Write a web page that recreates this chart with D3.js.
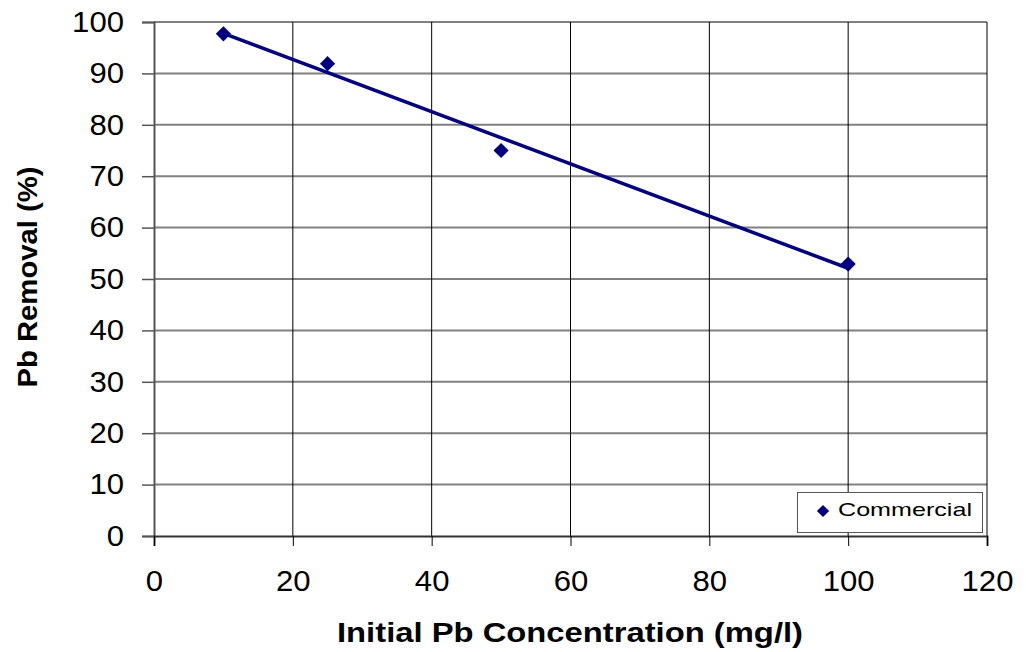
<!DOCTYPE html>
<html><head><meta charset="utf-8">
<script src="https://cdn.jsdelivr.net/npm/d3@7"></script>
<style>body{margin:0;background:#fff}svg{display:block}text{font-family:"Liberation Sans",Arial,sans-serif}</style>
</head><body><svg id="c" width="1026" height="652"></svg>
<script>
const concentrations = [10, 25, 50, 100];
const removal = [97.7, 91.9, 75.0, 52.9];
const xTicks = [0, 20, 40, 60, 80, 100, 120];
const yTicks = [0, 10, 20, 30, 40, 50, 60, 70, 80, 90, 100];
const seriesName = "Commercial";
const xTitle = "Initial Pb Concentration (mg/l)";
const yTitle = "Pb Removal (%)";

const svg = d3.select("#c");
const L = 154, R = 987, T = 22, B = 536;
const x = d3.scaleLinear().domain([0, 120]).range([L, R]);
const y = d3.scaleLinear().domain([0, 100]).range([B, T]);
const navy = "#000080";

// horizontal gridlines (gray)
svg.append("g").selectAll("line").data(yTicks.filter(d => d > 0)).join("line")
  .attr("x1", L).attr("x2", R).attr("y1", d => y(d)).attr("y2", d => y(d))
  .attr("stroke", "#808080").attr("stroke-width", 2);
// vertical gridlines (black)
svg.append("g").selectAll("line").data(xTicks.filter(d => d > 0)).join("line")
  .attr("x1", d => x(d)).attr("x2", d => x(d)).attr("y1", T).attr("y2", B)
  .attr("stroke", "#000").attr("stroke-width", 1);

function styleLabels(sel) {
  sel.attr("font-size", 29).attr("fill", "#000")
    .attr("font-family", "Liberation Sans, Arial, sans-serif")
    .attr("textLength", function() { return this.textContent.length * 17.3; })
    .attr("lengthAdjust", "spacingAndGlyphs");
}

// axes
const yAxis = d3.axisLeft(y).tickValues(yTicks).tickSize(12).tickPadding(18);
const gy = svg.append("g").attr("transform", `translate(${L},0)`).call(yAxis);
gy.select(".domain").attr("stroke", "#555").attr("stroke-width", 2);
gy.selectAll(".tick line").attr("stroke", "#555").attr("stroke-width", 1.5);
styleLabels(gy.selectAll(".tick text"));

const xAxis = d3.axisBottom(x).tickValues(xTicks).tickSize(10).tickPadding(24);
const gx = svg.append("g").attr("transform", `translate(0,${B})`).call(xAxis);
gx.select(".domain").attr("stroke", "#333").attr("stroke-width", 2);
gx.selectAll(".tick line").attr("stroke", "#000").attr("stroke-width", 1);
styleLabels(gx.selectAll(".tick text"));

// linear trendline (least squares)
const n = concentrations.length;
const mx = d3.mean(concentrations), my = d3.mean(removal);
let sxy = 0, sxx = 0;
for (let i = 0; i < n; i++) { sxy += (concentrations[i]-mx)*(removal[i]-my); sxx += (concentrations[i]-mx)**2; }
const slope = sxy / sxx, icpt = my - slope * mx;
const x0 = d3.min(concentrations), x1 = d3.max(concentrations);
svg.append("line")
  .attr("x1", x(x0)).attr("y1", y(icpt + slope * x0))
  .attr("x2", x(x1)).attr("y2", y(icpt + slope * x1))
  .attr("stroke", navy).attr("stroke-width", 3.5);

// markers
const diamond = d3.symbol().type(d3.symbolSquare).size(115);
svg.append("g").selectAll("path").data(concentrations).join("path")
  .attr("d", diamond)
  .attr("transform", (d, i) => `translate(${x(d)},${y(removal[i])}) rotate(45)`)
  .attr("fill", navy);

// legend
const lg = svg.append("g");
lg.append("rect").attr("x", 797.5).attr("y", 492.5).attr("width", 185).attr("height", 40)
  .attr("fill", "#fff").attr("stroke", "#555").attr("stroke-width", 1);
lg.append("path").attr("d", d3.symbol().type(d3.symbolSquare).size(75))
  .attr("transform", "translate(823,511) rotate(45)").attr("fill", navy);
lg.append("text").attr("x", 838).attr("y", 516).attr("font-size", 19)
  .attr("textLength", 134).attr("lengthAdjust", "spacingAndGlyphs").text(seriesName);

// titles
svg.append("text").attr("x", 570).attr("y", 642).attr("text-anchor", "middle")
  .attr("font-size", 27).attr("font-weight", "bold")
  .attr("textLength", 466).attr("lengthAdjust", "spacingAndGlyphs").text(xTitle);
svg.append("text").attr("transform", "translate(37,277) rotate(-90)").attr("text-anchor", "middle")
  .attr("font-size", 27).attr("font-weight", "bold")
  .attr("textLength", 221).attr("lengthAdjust", "spacingAndGlyphs").text(yTitle);
</script></body></html>
